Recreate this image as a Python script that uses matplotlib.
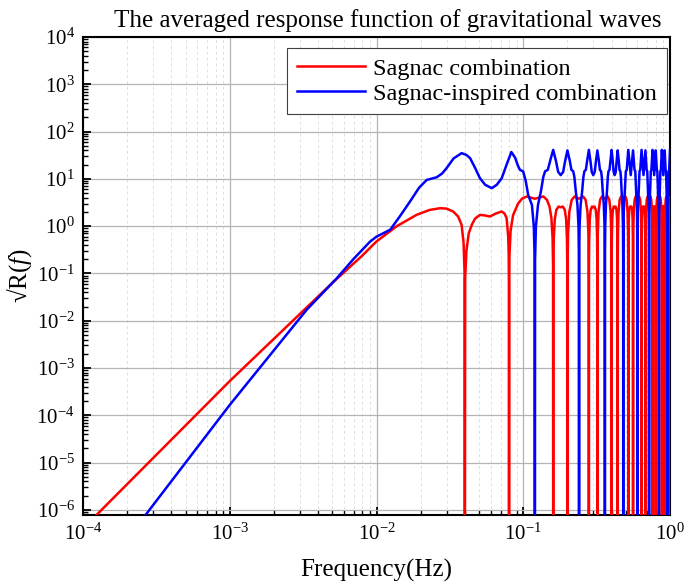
import matplotlib
matplotlib.use("Agg")
import matplotlib.pyplot as plt
import numpy as np
from matplotlib.ticker import LogLocator, NullFormatter

plt.rcParams['font.family'] = ['Liberation Serif', 'DejaVu Serif']
plt.rcParams['mathtext.fontset'] = 'custom'
plt.rcParams['mathtext.rm'] = 'Liberation Serif'
plt.rcParams['mathtext.it'] = 'Liberation Serif:italic'
plt.rcParams['axes.unicode_minus'] = False

# Sagnac combination (red)
sagnac_f_low = [1e-4, 1.245e-4, 1e-3, 3.34e-3, 5e-3, 7.9e-3, 0.01, 0.01375, 0.0188, 0.023,
                0.0271, 0.030, 0.0333, 0.036, 0.038, 0.0392, 0.0398, 0.040]
sagnac_v_low = [4.0e-7, 8.0e-7, 5.3e-4, 0.019, 0.063, 0.23, 0.475, 1.0, 1.74, 2.2,
                2.4, 2.35, 2.04, 1.6, 1.07, 0.45, 0.11, 1e-9]

sagnac_f_mid = [0.0402, 0.041, 0.0425, 0.0446, 0.047, 0.0507, 0.055, 0.0593, 0.065, 0.0713,
                0.0745, 0.077, 0.079, 0.0796, 0.0799, 0.080,
                0.0802, 0.0806, 0.082, 0.0852, 0.0922, 0.098, 0.1057, 0.113, 0.120, 0.128,
                0.137, 0.145, 0.151, 0.1555, 0.1585, 0.1596, 0.160,
                0.1604, 0.1615, 0.164, 0.168, 0.174, 0.180, 0.186, 0.192, 0.196, 0.1985, 0.1996, 0.200]
sagnac_v_mid = [0.08, 0.3, 0.7, 1.07, 1.45, 1.73, 1.68, 1.6, 1.85, 2.04,
                1.85, 1.48, 0.6, 0.24, 0.06, 1e-9,
                0.08, 0.25, 0.8, 1.7, 3.0, 3.8, 4.25, 4.0, 3.8, 4.0,
                4.25, 3.6, 2.6, 1.5, 0.55, 0.15, 1e-9,
                0.15, 0.55, 1.4, 2.2, 2.6, 2.5, 2.6, 2.2, 1.4, 0.55, 0.15, 1e-9]

sagnac_f_high = [0.2004, 0.202, 0.206, 0.214, 0.224, 0.240, 0.256, 0.266, 0.274, 0.278, 0.2796, 0.280,
                 0.2804, 0.2815, 0.284, 0.288, 0.294, 0.300, 0.306, 0.312, 0.316, 0.3185, 0.3196, 0.320,
                 0.3204, 0.322, 0.326, 0.334, 0.344, 0.360, 0.376, 0.386, 0.394, 0.398, 0.3996, 0.400,
                 0.4004, 0.4015, 0.404, 0.408, 0.414, 0.420, 0.426, 0.432, 0.436, 0.4385, 0.4396, 0.440,
                 0.4404, 0.442, 0.446, 0.454, 0.464, 0.480, 0.496, 0.506, 0.514, 0.518, 0.5196, 0.520,
                 0.5204, 0.5215, 0.524, 0.528, 0.534, 0.540, 0.546, 0.552, 0.556, 0.5585, 0.5596, 0.560,
                 0.5604, 0.562, 0.566, 0.574, 0.584, 0.600, 0.616, 0.626, 0.634, 0.638, 0.6396, 0.640,
                 0.6404, 0.6415, 0.644, 0.648, 0.654, 0.660, 0.666, 0.672, 0.676, 0.6785, 0.6796, 0.680,
                 0.6804, 0.682, 0.686, 0.694, 0.704, 0.720, 0.736, 0.746, 0.754, 0.758, 0.7596, 0.760,
                 0.7604, 0.7615, 0.764, 0.768, 0.774, 0.780, 0.786, 0.792, 0.796, 0.7985, 0.7996, 0.800,
                 0.8004, 0.802, 0.806, 0.814, 0.824, 0.840, 0.856, 0.866, 0.874, 0.878, 0.8796, 0.880,
                 0.8804, 0.8815, 0.884, 0.888, 0.894, 0.900, 0.906, 0.912, 0.916, 0.9185, 0.9196, 0.920,
                 0.9204, 0.922, 0.926, 0.934, 0.944, 0.960, 0.976, 0.986, 0.994, 0.998, 0.9996, 1.000]
sagnac_v_high = [0.15, 0.7, 2.0, 3.6, 4.25, 3.8, 4.25, 3.6, 2.0, 0.7, 0.15, 1e-9,
                 0.15, 0.55, 1.4, 2.2, 2.6, 2.5, 2.6, 2.2, 1.4, 0.55, 0.15, 1e-9,
                 0.15, 0.7, 2.0, 3.6, 4.25, 3.8, 4.25, 3.6, 2.0, 0.7, 0.15, 1e-9,
                 0.15, 0.55, 1.4, 2.2, 2.6, 2.5, 2.6, 2.2, 1.4, 0.55, 0.15, 1e-9,
                 0.15, 0.7, 2.0, 3.6, 4.25, 3.8, 4.25, 3.6, 2.0, 0.7, 0.15, 1e-9,
                 0.15, 0.55, 1.4, 2.2, 2.6, 2.5, 2.6, 2.2, 1.4, 0.55, 0.15, 1e-9,
                 0.15, 0.7, 2.0, 3.6, 4.25, 3.8, 4.25, 3.6, 2.0, 0.7, 0.15, 1e-9,
                 0.15, 0.55, 1.4, 2.2, 2.6, 2.5, 2.6, 2.2, 1.4, 0.55, 0.15, 1e-9,
                 0.15, 0.7, 2.0, 3.6, 4.25, 3.8, 4.25, 3.6, 2.0, 0.7, 0.15, 1e-9,
                 0.15, 0.55, 1.4, 2.2, 2.6, 2.5, 2.6, 2.2, 1.4, 0.55, 0.15, 1e-9,
                 0.15, 0.7, 2.0, 3.6, 4.25, 3.8, 4.25, 3.6, 2.0, 0.7, 0.15, 1e-9,
                 0.15, 0.55, 1.4, 2.2, 2.6, 2.5, 2.6, 2.2, 1.4, 0.55, 0.15, 1e-9,
                 0.15, 0.7, 2.0, 3.6, 4.25, 3.8, 4.25, 3.6, 2.0, 0.7, 0.15, 1e-9]

# Sagnac-inspired combination (blue)
inspired_f_low = [1e-4, 2.786e-4, 1e-3, 3.34e-3, 5.36e-3, 6.95e-3, 9.03e-3, 0.010, 0.0124, 0.0144,
                  0.0169, 0.0195, 0.022, 0.0257, 0.028, 0.030, 0.0335, 0.038, 0.041, 0.0434,
                  0.047, 0.0507, 0.055, 0.061, 0.066, 0.0713, 0.077, 0.083, 0.088, 0.092,
                  0.095, 0.0998, 0.104, 0.108, 0.1146, 0.118, 0.1196, 0.120]
inspired_v_low = [1.3e-8, 9.3e-7, 1.66e-4, 0.017, 0.079, 0.2, 0.47, 0.6, 0.84, 1.6,
                  3.3, 6.5, 9.5, 10.8, 13.0, 16.8, 27.0, 35.0, 32.0, 27.5,
                  17.0, 10.3, 7.5, 6.35, 7.5, 10.3, 20.0, 37.0, 28.0, 19.0,
                  15.5, 14.4, 9.0, 4.6, 2.8, 1.0, 0.2, 1e-9]

inspired_f_high = [0.1204, 0.122, 0.126, 0.132, 0.137, 0.141, 0.147, 0.153, 0.160, 0.167, 0.173, 0.180,
                   0.187, 0.193, 0.200, 0.207, 0.213, 0.219, 0.223, 0.228, 0.234, 0.238, 0.2396, 0.240,
                   0.2404, 0.242, 0.246, 0.252, 0.257, 0.261, 0.267, 0.273, 0.280, 0.287, 0.293, 0.300,
                   0.307, 0.313, 0.320, 0.327, 0.333, 0.339, 0.343, 0.348, 0.354, 0.358, 0.3596, 0.360,
                   0.3604, 0.362, 0.366, 0.372, 0.377, 0.381, 0.387, 0.393, 0.400, 0.407, 0.413, 0.420,
                   0.427, 0.433, 0.440, 0.447, 0.453, 0.459, 0.463, 0.468, 0.474, 0.478, 0.4796, 0.480,
                   0.4805, 0.484, 0.492, 0.500, 0.507, 0.520, 0.540, 0.560, 0.573, 0.580, 0.588, 0.596, 0.5995, 0.600,
                   0.6005, 0.604, 0.612, 0.620, 0.627, 0.640, 0.660, 0.680, 0.693, 0.700, 0.708, 0.716, 0.7195, 0.720,
                   0.7205, 0.724, 0.732, 0.740, 0.747, 0.760, 0.780, 0.800, 0.813, 0.820, 0.828, 0.836, 0.8395, 0.840,
                   0.8405, 0.844, 0.852, 0.860, 0.867, 0.880, 0.900, 0.920, 0.933, 0.940, 0.948, 0.956, 0.9595, 0.960,
                   0.9605, 0.964, 0.972, 0.980, 0.987, 1.000]
inspired_v_high = [0.2, 1.0, 2.8, 5.5, 11.0, 14.5, 15.5, 25.0, 41.0, 24.0, 14.0, 12.0,
                   14.0, 24.0, 40.0, 25.0, 15.5, 14.5, 11.0, 5.5, 2.8, 1.0, 0.2, 1e-9,
                   0.2, 1.0, 2.8, 5.5, 11.0, 14.5, 15.5, 25.0, 41.0, 24.0, 14.0, 12.0,
                   14.0, 24.0, 40.0, 25.0, 15.5, 14.5, 11.0, 5.5, 2.8, 1.0, 0.2, 1e-9,
                   0.2, 1.0, 2.8, 5.5, 11.0, 14.5, 15.5, 25.0, 41.0, 24.0, 14.0, 12.0,
                   14.0, 24.0, 40.0, 25.0, 15.5, 14.5, 11.0, 5.5, 2.8, 1.0, 0.2, 1e-9,
                   0.25, 2.0, 5.5, 14.5, 15.5, 41.0, 12.0, 40.0, 15.5, 14.5, 5.5, 2.0, 0.25, 1e-9,
                   0.25, 2.0, 5.5, 14.5, 15.5, 41.0, 12.0, 40.0, 15.5, 14.5, 5.5, 2.0, 0.25, 1e-9,
                   0.25, 2.0, 5.5, 14.5, 15.5, 41.0, 12.0, 40.0, 15.5, 14.5, 5.5, 2.0, 0.25, 1e-9,
                   0.25, 2.0, 5.5, 14.5, 15.5, 41.0, 12.0, 40.0, 15.5, 14.5, 5.5, 2.0, 0.25, 1e-9,
                   0.25, 2.0, 5.5, 14.5, 15.5, 41.0]

sagnac_f = np.array(sagnac_f_low + sagnac_f_mid + sagnac_f_high)
sagnac_v = np.array(sagnac_v_low + sagnac_v_mid + sagnac_v_high)
inspired_f = np.array(inspired_f_low + inspired_f_high)
inspired_v = np.array(inspired_v_low + inspired_v_high)

fig = plt.figure(figsize=(6.85, 5.85), dpi=100)
ax = fig.add_axes([83 / 685, 1 - 515 / 585, 587 / 685, 478 / 585])

ax.plot(sagnac_f, sagnac_v, color='#ff0000', lw=1.8, label='Sagnac combination', zorder=3)
ax.plot(inspired_f, inspired_v, color='#0000ff', lw=1.8, label='Sagnac-inspired combination', zorder=4)

ax.set_xscale('log')
ax.set_yscale('log')
ax.set_xlim(1e-4, 1)
ax.set_ylim(7.8e-7, 1e4)

ax.xaxis.set_major_locator(LogLocator(base=10, numticks=10))
ax.xaxis.set_minor_locator(LogLocator(base=10, subs=np.arange(2, 10), numticks=20))
ax.yaxis.set_major_locator(LogLocator(base=10, numticks=20))
ax.yaxis.set_minor_locator(LogLocator(base=10, subs=np.arange(2, 10), numticks=30))
ax.xaxis.set_minor_formatter(NullFormatter())
ax.yaxis.set_minor_formatter(NullFormatter())

ax.grid(True, which='major', color='#b4b4b4', lw=0.9, ls='-', zorder=0)
ax.grid(True, which='minor', axis='x', color='#dedede', lw=0.7, ls=(0, (3, 3)), zorder=0)

ax.tick_params(which='both', direction='in', top=False, right=False, labelsize=15, pad=6)
ax.tick_params(which='major', length=6, width=1.3)
ax.tick_params(which='minor', length=3.5, width=1.0)
for s in ax.spines.values():
    s.set_linewidth(1.5)

ax.set_title('The averaged response function of gravitational waves', fontsize=18, pad=7, x=0.52)
ax.set_xlabel('Frequency(Hz)', fontsize=18, labelpad=10)
ax.set_ylabel('√R($\\mathit{f}$)', fontsize=18, labelpad=2)

leg = ax.legend(loc='upper right', bbox_to_anchor=(1 - 3 / 587, 1 - 11 / 478), borderaxespad=0,
                fontsize=17.5, fancybox=False, edgecolor='#404040', framealpha=1,
                handlelength=2.8, handletextpad=0.35, borderpad=0.4, labelspacing=0.12)
leg.get_frame().set_linewidth(0.8)

fig.savefig('out.png', dpi=100)
